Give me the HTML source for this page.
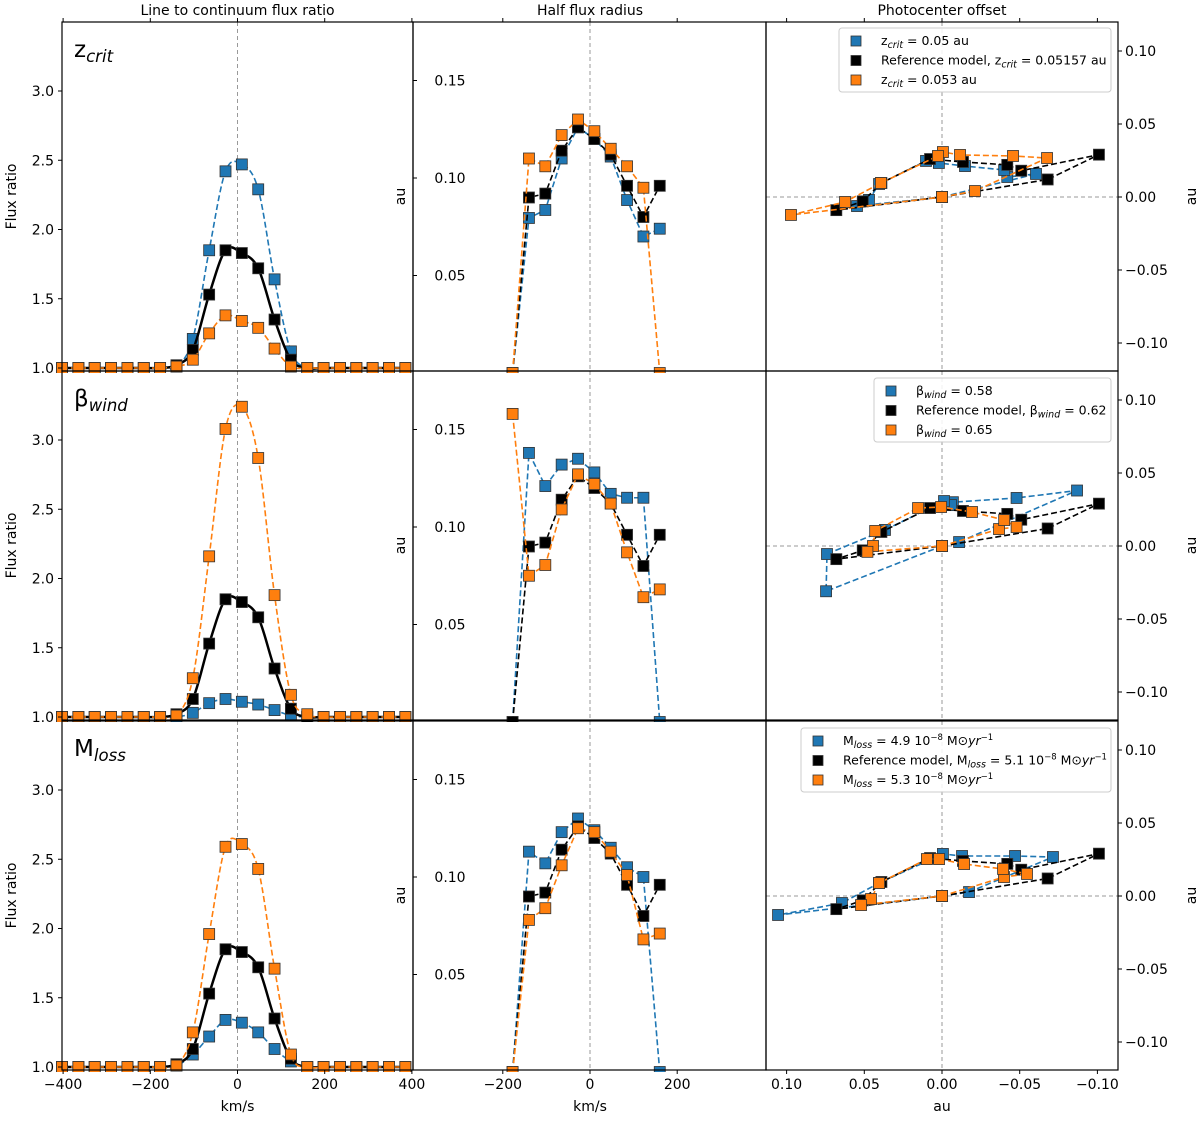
<!DOCTYPE html>
<html><head><meta charset="utf-8"><style>
html,body{margin:0;padding:0;background:#fff;}
svg{display:block;font-family:"DejaVu Sans","Liberation Sans",sans-serif;}
</style></head><body>
<svg id="fig" width="1200" height="1122" viewBox="0 0 1200 1122" xmlns="http://www.w3.org/2000/svg"></svg>
<script>
// ---------- data ----------
const velFlux = [-402.5,-365,-327.5,-290,-252.5,-215,-177.5,-140,-102.5,-65,-27.5,10,47.5,85,122.5,160,197.5,235,272.5,310,347.5,385];
const fluxRef   = [1,1,1,1,1,1,1,1.02,1.13,1.53,1.85,1.83,1.72,1.35,1.06,1,1,1,1,1,1,1];
const fluxZBlue = [1,1,1,1,1,1,1,1.01,1.21,1.85,2.42,2.47,2.29,1.64,1.12,1,1,1,1,1,1,1];
const fluxZOrg  = [1,1,1,1,1,1,1,1.01,1.06,1.25,1.38,1.34,1.29,1.14,1.01,1,1,1,1,1,1,1];
const fluxBBlue = [1,1,1,1,1,1,1,1,1.03,1.10,1.13,1.11,1.09,1.05,1.01,1,1,1,1,1,1,1];
const fluxBOrg  = [1,1,1,1,1,1,1,1.01,1.28,2.16,3.08,3.24,2.87,1.88,1.16,1.02,1,1,1,1,1,1];
const fluxMBlue = [1,1,1,1,1,1,1,1.01,1.09,1.22,1.34,1.32,1.25,1.13,1.04,1,1,1,1,1,1,1];
const fluxMOrg  = [1,1,1,1,1,1,1,1.01,1.25,1.96,2.59,2.61,2.43,1.71,1.09,1,1,1,1,1,1,1];

const velRad = [-177.5,-140,-102.5,-65,-27.5,10,47.5,85,122.5,160];
const radRef   = [0,0.090,0.092,0.114,0.126,0.120,0.112,0.096,0.080,0.096];
const radZBlue = [0,0.0795,0.0836,0.110,0.126,0.120,0.111,0.0887,0.070,0.074];
const radZOrg  = [0,0.110,0.106,0.122,0.130,0.124,0.115,0.106,0.095,0];
const radBBlue = [0,0.138,0.121,0.132,0.135,0.128,0.117,0.115,0.115,0];
const radBOrg  = [0.158,0.075,0.0805,0.109,0.127,0.122,0.112,0.087,0.064,0.068];
const radMBlue = [0,0.113,0.107,0.123,0.130,0.124,0.115,0.105,0.100,0];
const radMOrg  = [0,0.078,0.084,0.106,0.125,0.123,0.113,0.101,0.068,0.071];

const pcRefX = [0,-0.068,-0.101,-0.051,-0.042,-0.0135,0.0077,0.039,0.051,0.068,0];
const pcRefY = [0,0.012,0.029,0.018,0.022,0.024,0.026,0.0096,-0.003,-0.009,0];
const pcZBlueX = [0,-0.0605,-0.042,-0.040,-0.0148,0.002,0.0103,0.0405,0.047,0.0547,0];
const pcZBlueY = [0,0.0158,0.0137,0.0185,0.0212,0.0233,0.0247,0.0089,-0.002,-0.0062,0];
const pcZOrgX = [0,-0.0212,-0.0676,-0.0457,-0.0116,-0.0006,0.0026,0.0393,0.0624,0.0972,0];
const pcZOrgY = [0,0.0041,0.0267,0.0281,0.0288,0.0308,0.0281,0.0096,-0.0034,-0.0123,0];
const pcBBlueX = [0,-0.011,-0.0869,-0.048,-0.007,-0.0058,-0.0013,0.0367,0.074,0.0746,0];
const pcBBlueY = [0,0.0027,0.038,0.0329,0.030,0.028,0.0308,0.011,-0.0055,-0.031,0];
const pcBOrgX = [0,-0.0367,-0.048,-0.040,-0.0193,0.0006,0.0154,0.043,0.0444,0.048,0];
const pcBOrgY = [0,0.0116,0.013,0.0178,0.0233,0.0267,0.026,0.0103,0,-0.004,0];
const pcMBlueX = [0,-0.0174,-0.0714,-0.047,-0.0129,-0.0006,0.0405,0.0644,0.1055,0];
const pcMBlueY = [0,0.0027,0.0267,0.0274,0.0274,0.0288,0.0089,-0.0048,-0.013,0];
const pcMOrgX = [0,-0.0399,-0.0547,-0.0393,-0.0142,0.0019,0.0097,0.0405,0.0457,0.0521,0];
const pcMOrgY = [0,0.013,0.0151,0.0185,0.0219,0.0253,0.0253,0.0089,-0.0021,-0.0062,0];

const fluxTicks = [1.0,1.5,2.0,2.5,3.0];
const radTicks = [0.05,0.10,0.15];
const pcTicks = [-0.10,-0.05,0.00,0.05,0.10];
const velTicks1 = [-400,-200,0,200,400];
const velTicks2 = [-200,0,200];

// ---------- layout ----------
const NS="http://www.w3.org/2000/svg";
const svg=document.getElementById('fig');
const rowTop=[22,371,721], rowH=349;
const C1=[62,413], C2=[413,766], C3=[766,1118];
const BLUE="#1f77b4", ORG="#ff7f0e", BLK="#000";
function el(tag,attrs,parent){const e=document.createElementNS(NS,tag);for(const k in attrs)e.setAttribute(k,attrs[k]);(parent||svg).appendChild(e);return e;}
const x1=v=>237.5+v*0.436;
const x2=v=>590+v*0.436;
const x3=d=>942-d*1554;
const y1=(f,r)=>rowTop[r]+346-(f-1)*138.5;
const y2=(a,r)=>rowTop[r]+156+(0.10-a)*1950;
const y3=(d,r)=>rowTop[r]+175-d*1460;

function smoothPath(pts){
  let d=`M${pts[0][0]},${pts[0][1]}`;
  for(let i=0;i<pts.length-1;i++){
    const p0=pts[Math.max(0,i-1)],p1=pts[i],p2=pts[i+1],p3=pts[Math.min(pts.length-1,i+2)];
    const c1=[p1[0]+(p2[0]-p0[0])/6,p1[1]+(p2[1]-p0[1])/6];
    const c2=[p2[0]-(p3[0]-p1[0])/6,p2[1]-(p3[1]-p1[1])/6];
    d+=` C${c1[0]},${c1[1]} ${c2[0]},${c2[1]} ${p2[0]},${p2[1]}`;
  }
  return d;
}
function series(pts,color,smooth,solid,name,clip){
  const g=el('g',{'clip-path':`url(#${clip})`});
  
  
  const d=smooth?smoothPath(pts):'M'+pts.map(p=>p.join(',')).join(' L');
  const line=el('path',{d:d,fill:'none',stroke:color,'stroke-width':solid?2.5:1.6,'stroke-dasharray':solid?'none':'6,3'},g);
  
  
  pts.forEach(p=>{
    const m=el('rect',{x:p[0]-5.5,y:p[1]-5.5,width:11,height:11,fill:color,stroke:'#333','stroke-width':0.8},g);
    
    
  });
}
function txt(x,y,s,attrs,name){
  const t=el('text',Object.assign({x:x,y:y,'font-size':14,fill:'#000'},attrs||{}));
  t.textContent=s;
  
  
  return t;
}
const fmt=(v,n)=>(v<0?'\u2212':'')+Math.abs(v).toFixed(n);

const defs=el('defs',{});
[C1,C2,C3].forEach((c,ci)=>rowTop.forEach((t,r)=>{
  const cp=el('clipPath',{id:`c${ci}${r}`},defs);
  el('rect',{x:c[0]-8,y:t-6,width:c[1]-c[0]+16,height:rowH+8},cp);
}));

rowTop.forEach((t,r)=>{
  [[x1(0)],[x2(0)],[x3(0)]].forEach(([x])=>{
    const l=el('line',{x1:x,x2:x,y1:t,y2:t+rowH,stroke:'#999','stroke-width':1,'stroke-dasharray':'4,3'});
    
    
  });
  const h=el('line',{x1:C3[0],x2:C3[1],y1:y3(0,r),y2:y3(0,r),stroke:'#999','stroke-width':1,'stroke-dasharray':'4,3'});
  
  
});

const fl=[[fluxZBlue,fluxZOrg],[fluxBBlue,fluxBOrg],[fluxMBlue,fluxMOrg]];
fl.forEach((pair,r)=>{
  series(velFlux.map((v,i)=>[x1(v),y1(pair[0][i],r)]),BLUE,true,false,`flux-blue-row${r+1}`,`c0${r}`);
  series(velFlux.map((v,i)=>[x1(v),y1(fluxRef[i],r)]),BLK,true,true,`flux-reference-row${r+1}`,`c0${r}`);
  series(velFlux.map((v,i)=>[x1(v),y1(pair[1][i],r)]),ORG,true,false,`flux-orange-row${r+1}`,`c0${r}`);
});
const rd=[[radZBlue,radZOrg],[radBBlue,radBOrg],[radMBlue,radMOrg]];
rd.forEach((pair,r)=>{
  series(velRad.map((v,i)=>[x2(v),y2(pair[0][i],r)]),BLUE,false,false,`radius-blue-row${r+1}`,`c1${r}`);
  series(velRad.map((v,i)=>[x2(v),y2(radRef[i],r)]),BLK,false,false,`radius-reference-row${r+1}`,`c1${r}`);
  series(velRad.map((v,i)=>[x2(v),y2(pair[1][i],r)]),ORG,false,false,`radius-orange-row${r+1}`,`c1${r}`);
});
const pc=[[pcZBlueX,pcZBlueY,pcZOrgX,pcZOrgY],[pcBBlueX,pcBBlueY,pcBOrgX,pcBOrgY],[pcMBlueX,pcMBlueY,pcMOrgX,pcMOrgY]];
pc.forEach((s,r)=>{
  series(s[0].map((d,i)=>[x3(d),y3(s[1][i],r)]),BLUE,false,false,`offset-blue-row${r+1}`,`c2${r}`);
  series(pcRefX.map((d,i)=>[x3(d),y3(pcRefY[i],r)]),BLK,false,false,`offset-reference-row${r+1}`,`c2${r}`);
  series(s[2].map((d,i)=>[x3(d),y3(s[3][i],r)]),ORG,false,false,`offset-orange-row${r+1}`,`c2${r}`);
});

rowTop.forEach((t,r)=>[C1,C2,C3].forEach((c,ci)=>{
  const f=el('rect',{x:c[0],y:t,width:c[1]-c[0],height:rowH,fill:'none',stroke:'#000','stroke-width':1.2});
  
  
}));

rowTop.forEach((t,r)=>{
  fluxTicks.forEach(v=>{const y=y1(v,r);el('line',{x1:C1[0]-4,x2:C1[0],y1:y,y2:y,stroke:'#000'});txt(C1[0]-8,y+5,v.toFixed(1),{'text-anchor':'end'},'flux-tick-label');});
  radTicks.forEach(v=>{const y=y2(v,r);el('line',{x1:C2[0],x2:C2[0]+4,y1:y,y2:y,stroke:'#000'});txt(450,y+5,v.toFixed(2),{'text-anchor':'middle'},'radius-tick-label');});
  pcTicks.forEach(v=>{const y=y3(v,r);el('line',{x1:C3[1],x2:C3[1]+4,y1:y,y2:y,stroke:'#000'});txt(1125,y+5,fmt(v,2),{},'offset-tick-label');});
  const cy=t+rowH/2;
  txt(16,cy,'Flux ratio',{'text-anchor':'middle',transform:`rotate(-90 16 ${cy})`},'flux-y-axis-title');
  txt(405,cy,'au',{'text-anchor':'middle',transform:`rotate(-90 405 ${cy})`},'radius-y-axis-title');
  txt(1196,cy,'au',{'text-anchor':'middle',transform:`rotate(-90 1196 ${cy})`},'offset-y-axis-title');
});

const bot=rowTop[2]+rowH;
velTicks1.forEach(v=>{const x=x1(v);el('line',{x1:x,x2:x,y1:bot,y2:bot+4,stroke:'#000'});el('line',{x1:x,x2:x,y1:22,y2:18,stroke:'#000'});txt(x,bot+19,fmt(v,0),{'text-anchor':'middle'},'velocity-tick-label');});
velTicks2.forEach(v=>{const x=x2(v);el('line',{x1:x,x2:x,y1:bot,y2:bot+4,stroke:'#000'});el('line',{x1:x,x2:x,y1:22,y2:18,stroke:'#000'});txt(x,bot+19,fmt(v,0),{'text-anchor':'middle'},'velocity-tick-label');});
pcTicks.forEach(v=>{const x=x3(v);el('line',{x1:x,x2:x,y1:bot,y2:bot+4,stroke:'#000'});el('line',{x1:x,x2:x,y1:22,y2:18,stroke:'#000'});txt(x,bot+19,fmt(v,2),{'text-anchor':'middle'},'offset-tick-label');});
txt(x1(0),bot+41,'km/s',{'text-anchor':'middle'},'velocity-x-axis-title');
txt(x2(0),bot+41,'km/s',{'text-anchor':'middle'},'velocity-x-axis-title');
txt(x3(0),bot+41,'au',{'text-anchor':'middle'},'offset-x-axis-title');

txt(237.5,15,'Line to continuum flux ratio',{'text-anchor':'middle'},'flux-column-title');
txt(590,15,'Half flux radius',{'text-anchor':'middle'},'radius-column-title');
txt(942,15,'Photocenter offset',{'text-anchor':'middle'},'offset-column-title');

function sub(t,main,subs){const a=el('tspan',{},t);a.textContent=main;const b=el('tspan',{'font-style':'italic','font-size':'0.72em',dy:5},t);b.textContent=subs;}
[['z','crit'],['\u03B2','wind'],['M','loss']].forEach((p,r)=>{
  const t=txt(74,rowTop[r]+35,'',{'font-size':23},'row-parameter-label');sub(t,p[0],p[1]);
});

function legend(x,y,w,rows,name){
  const g=el('g',{});
  el('rect',{x:x,y:y,width:w,height:64,rx:3,fill:'#fff','fill-opacity':0.85,stroke:'#ccc'},g);
  rows.forEach((row,i)=>{
    const cy=y+13+i*19.5;
    const m=el('rect',{x:x+12,y:cy-5,width:10,height:10,fill:row[0],stroke:'#333','stroke-width':0.8},g);
    
    const t=el('text',{x:x+42,y:cy+4,'font-size':12.5},g);
    
    row[1].forEach(seg=>{
      let a={};
      if(seg[1]==='sub')a={'font-style':'italic','font-size':9.5,dy:3};
      else if(seg[1]==='sup')a={'font-size':8.5,dy:seg[2]};
      else if(seg[1]==='back')a={dy:seg[2]};
      else if(seg[1]==='it')a={'font-style':'italic'};
      const s=el('tspan',a,g===null?null:t);
      s.textContent=seg[0];
    });
  });
}
legend(839,28,272,[[BLUE,[['z'],['crit','sub'],[' = 0.05 au','back',-3]]],[BLK,[['Reference model, z'],['crit','sub'],[' = 0.05157 au','back',-3]]],[ORG,[['z'],['crit','sub'],[' = 0.053 au','back',-3]]]],'legend-zcrit');
legend(874,378,237,[[BLUE,[['\u03B2'],['wind','sub'],[' = 0.58','back',-3]]],[BLK,[['Reference model, \u03B2'],['wind','sub'],[' = 0.62','back',-3]]],[ORG,[['\u03B2'],['wind','sub'],[' = 0.65','back',-3]]]],'legend-bwind');
function mrow(v,pre){return [[pre+'M'],['loss','sub'],[' = '+v+' 10','back',-3],['\u22128','sup',-5],[' M\u2299','back',5],['yr','it'],['\u22121','sup',-5]];}
legend(801,728,310,[[BLUE,mrow('4.9','')],[BLK,mrow('5.1','Reference model, ')],[ORG,mrow('5.3','')]],'legend-mloss');
</script>
</body></html>
